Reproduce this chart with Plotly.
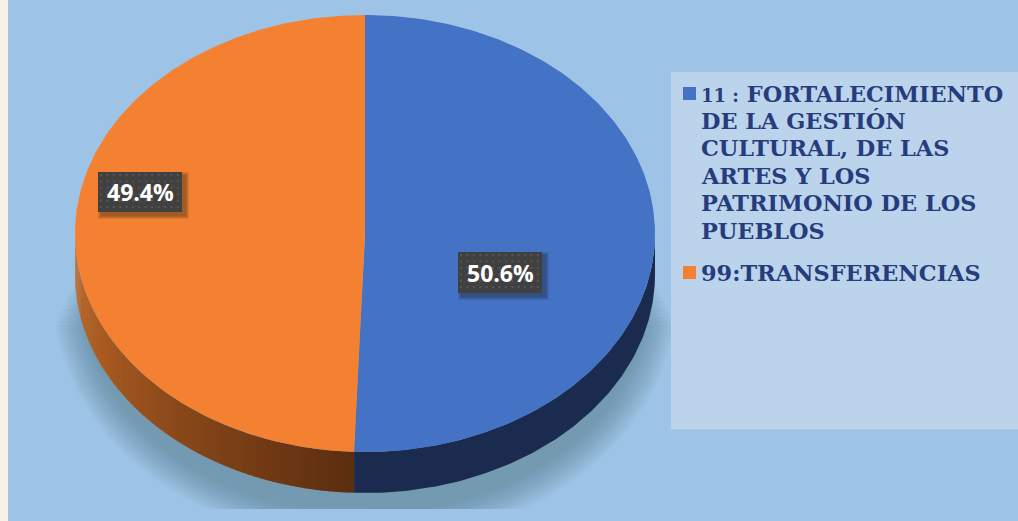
import numpy as np
import plotly.graph_objects as go

# ---- data ----
categories = [
    ["11 : FORTALECIMIENTO", "DE LA GESTIÓN", "CULTURAL, DE LAS", "ARTES Y LOS", "PATRIMONIO DE LOS", "PUEBLOS"],
    ["99:TRANSFERENCIAS"],
]
values = [50.6, 49.4]
labels = ["50.6%", "49.4%"]
colors = ["#4472C4", "#F48131"]

# ---- geometry ----
W, H = 1018, 521
CX, CY, RX, RY, DEPTH = 365, 233.5, 290, 218.5, 41
BG = "#9DC3E6"

fig = go.Figure()

def poly(xs, ys, color):
    fig.add_trace(go.Scatter(x=xs, y=ys, mode="lines", fill="toself", fillcolor=color,
                             line=dict(width=0), hoverinfo="skip", showlegend=False))

def pt(a, dy=0):
    return CX + RX * np.sin(a), CY - RY * np.cos(a) + dy

# side strip of the page
poly([0, 8, 8, 0], [0, 0, H, H], "#F6F2EA")

# soft shadow under the pie
t = np.linspace(0, 2 * np.pi, 240)
for i in range(16):
    k = i / 15
    rx = 312 - 30 * k
    ry = 248 - 30 * k
    ys = np.minimum(296 + ry * np.sin(t), 509)
    ys = np.maximum(ys, 325 - 60 * k)
    poly(CX + rx * np.cos(t), ys, "rgba(60,75,95,0.024)")

# legend panel
poly([671, W, W, 671], [72, 72, 429.5, 429.5], "#BBD4EB")

# slices from the values, clockwise from the top
fr = np.cumsum([0] + values) / sum(values) * 2 * np.pi

# wall, front half only
a0, a1 = fr[0], fr[1]
a = np.linspace(max(a0, np.pi / 2), min(a1, 3 * np.pi / 2), 120)
x, y = pt(a)
poly(np.r_[x, x[::-1]], np.r_[y, (y + DEPTH)[::-1]], "#1A2B4F")

n = 70
edges = np.linspace(fr[1], 3 * np.pi / 2, n + 1)
dark, bright = np.array([0x5C, 0x2E, 0x10]), np.array([0xC8, 0x6C, 0x28])
for i in range(n):
    aa = np.linspace(edges[i], edges[i + 1] + 0.004, 4)
    x, y = pt(aa)
    c = dark + (bright - dark) * (i / (n - 1))
    poly(np.r_[x, x[::-1]], np.r_[y, (y + DEPTH)[::-1]],
         f"rgb({int(c[0])},{int(c[1])},{int(c[2])})")

# top faces
for i, col in enumerate(colors):
    a = np.linspace(fr[i], fr[i + 1], 240)
    x, y = pt(a)
    poly(np.r_[CX, x, CX], np.r_[CY, y, CY], col)

# data label boxes
boxes = [(458, 252, 542, 293), (98, 172, 182, 212)]
for (x0, y0, x1, y1), txt in zip(boxes, labels):
    for g in (3, 2, 1, 0):
        poly([x0 + 3 - g, x1 + 4 + g, x1 + 4 + g, x0 + 3 - g],
             [y0 + 3 - g, y0 + 3 - g, y1 + 4 + g, y1 + 4 + g], "rgba(30,30,30,0.11)")
    poly([x0, x1, x1, x0], [y0, y0, y1, y1], "#404040")
    gx, gy = np.meshgrid(np.arange(x0 + 3, x1, 6.4), np.arange(y0 + 3, y1, 6.4))
    fig.add_trace(go.Scatter(x=gx.ravel(), y=gy.ravel(), mode="markers",
                             marker=dict(symbol="square", size=2, color="#555555"),
                             hoverinfo="skip", showlegend=False))
    fig.add_annotation(x=(x0 + x1) / 2, y=(y0 + y1) / 2, text=f"<b>{txt}</b>", showarrow=False,
                       xanchor="center", yanchor="middle",
                       font=dict(family="Open Sans", size=23, color="white"))

# legend
swatch_y = [93.5, 272.5]
first_line_y = [93.5, 272.5]
LINE = 27.4
def styled(line):
    # the numeric prefix is set in low old-style figures in the reference
    if " : " in line:
        head, tail = line.split(" : ", 1)
        return f"<span style='font-size:18px'><b>{head} :</b></span><b> {tail}</b>"
    return f"<b>{line}</b>"

for col, lines, sy, ty in zip(colors, categories, swatch_y, first_line_y):
    fig.add_trace(go.Scatter(x=[689.5], y=[sy], mode="markers",
                             marker=dict(symbol="square", size=13, color=col),
                             hoverinfo="skip", showlegend=False))
    for j, line in enumerate(lines):
        fig.add_annotation(x=700.5, y=ty + j * LINE, text=styled(line), showarrow=False, align="left",
                           xanchor="left", yanchor="middle", borderpad=0, borderwidth=0,
                           font=dict(family="DejaVu Serif", size=22.4, color="#263C7D"))

fig.update_layout(
    width=W, height=H, margin=dict(l=0, r=0, t=0, b=0),
    paper_bgcolor=BG, plot_bgcolor=BG, showlegend=False,
    xaxis=dict(range=[0, W], visible=False, fixedrange=True),
    yaxis=dict(range=[H, 0], visible=False, fixedrange=True),
)
fig.write_html("out.html", config=dict(displayModeBar=False),
               post_script="document.body.style.margin='0';document.documentElement.style.overflow='hidden';")
